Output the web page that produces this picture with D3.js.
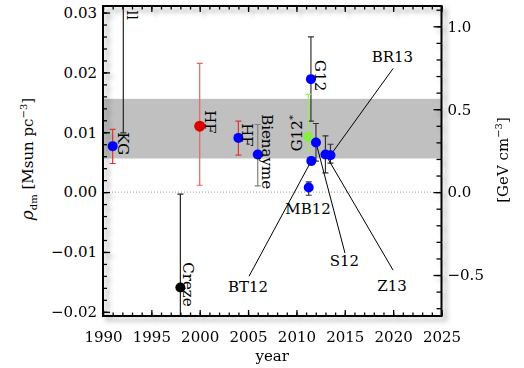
<!DOCTYPE html>
<html><head><meta charset="utf-8">
<script src="https://cdn.jsdelivr.net/npm/d3@7"></script>
<style>
html,body{margin:0;padding:0;background:#fff;}
svg{display:block;}
text{font-family:"DejaVu Serif",serif;fill:#000;}
</style></head><body>
<svg id="c" width="524" height="368"></svg>
<script>
// ---------------- data ----------------
const names    = ["ll","KG","Creze","HF","HF","Bienayme","G12","G12*","MB12","BT12","S12","Z13","BR13"];
const years    = [1992.1, 1991.0, 1998.0, 2000.0, 2004.0, 2006.0, 2011.5, 2011.23, 2011.27, 2011.54, 2012.02, 2013.0, 2013.52];
const rhoVal   = [0.035, 0.00768, -0.01595, 0.01102, 0.00906, 0.00629, 0.01888, 0.00923, 0.00077, 0.00522, 0.0083, 0.00629, 0.00617];
const rhoLow   = [0.0099, 0.00478, -0.035, 0.00115, 0.00617, 0.00104, 0.01186, 0.0070, -0.00052, 0.0046, 0.00517, 0.00321, 0.00483];
const rhoHigh  = [0.06, 0.01047, -0.00035, 0.0215, 0.01186, 0.0113, 0.02595, 0.01632, 0.0017, 0.0058, 0.01147, 0.0094, 0.0080];
const dotColors = ["#000000","#0000ff","#000000","#dd0000","#0000ff","#0000ff","#0000ff","#88ee44","#0000ff","#0000ff","#0000ff","#0000ff","#0000ff"];
const barColors = ["#222222","#e03535","#222222","#f06060","#e03535","#808080","#333333","#99ee55","#333333","#333333","#333333","#333333","#333333"];

// shaded band (Msun pc^-3)
const bandRange = [0.00562, 0.01559];

// rotated labels: text, year, rho of anchor, rotation
const rotLabels = [
  {t:"ll",      yr:1992.48, r:0.02876, rot:90, anchor:"end"},
  {t:"KG",      yr:1991.55, r:0.01002, rot:90, anchor:"start"},
  {t:"HF",      yr:2000.55, r:0.0137,  rot:90, anchor:"start"},
  {t:"HF",      yr:2004.37, r:0.01152, rot:90, anchor:"start"},
  {t:"Bienayme",yr:2006.44, r:0.01303, rot:90, anchor:"start"},
  {t:"Creze",   yr:1998.27, r:-0.01172,rot:90, anchor:"start"},
  {t:"G12",     yr:2011.92, r:0.02206, rot:90, anchor:"start"},
  {t:"G12",     yr:2010.58, r:0.00684, rot:-90, anchor:"start", sup:"*"}
];
// horizontal labels with leader lines: text position, leader start, target index
const leadLabels = [
  {t:"MB12", yr:2011.2,  r:-0.00269, from:null},
  {t:"BT12", yr:2005.0,  r:-0.01574, from:[2005.1, -0.01406], to:9},
  {t:"S12",  yr:2014.97, r:-0.01139, from:[2015.02, -0.01019], to:10},
  {t:"Z13",  yr:2019.88, r:-0.01569, from:[2019.99, -0.01303], to:11},
  {t:"BR13", yr:2019.93, r:0.02261,  from:[2020.0, 0.02067],  to:12}
];

// axis ticks
const xMajor = [1990,1995,2000,2005,2010,2015,2020,2025];
const xMinor = d3.range(1990, 2026, 1);
const yMajor = [-0.02,-0.01,0,0.01,0.02,0.03];
const yMinor = d3.range(-0.02, 0.0311, 0.002);
const gevMajor = [-0.5,0,0.5,1.0];
const gevMinor = d3.range(-0.7, 1.15, 0.1);
const gevPerMsun = 36.09;   // 1 Msun pc^-3 in GeV cm^-3 (as drawn)

// ---------------- drawing ----------------
const svg = d3.select("#c");
const L=103, R=441.5, T=6, B=316;
const x = d3.scaleLinear().domain([1990,2025]).range([L,R]);
const y = d3.scaleLinear().domain([-0.0207,0.0311]).range([B,T]);
const y2 = d3.scaleLinear().domain([-0.0207*gevPerMsun, 0.0311*gevPerMsun]).range([B,T]);

const defs = svg.append("defs");
defs.append("clipPath").attr("id","clip").append("rect")
  .attr("x",L).attr("y",T).attr("width",R-L).attr("height",B-T);
const f = defs.append("filter").attr("id","sh").attr("x","-10%").attr("y","-10%").attr("width","130%").attr("height","130%");
f.append("feDropShadow").attr("dx",4).attr("dy",4).attr("stdDeviation",2.8)
  .attr("flood-color","#000").attr("flood-opacity",0.33);

const plot = svg.append("g").attr("clip-path","url(#clip)");

// band
plot.append("rect").attr("x",L).attr("width",R-L)
  .attr("y",y(bandRange[1])).attr("height",y(bandRange[0])-y(bandRange[1]))
  .attr("fill","#c0c0c0");

// zero line
plot.append("line").attr("x1",L).attr("x2",R).attr("y1",y(0)).attr("y2",y(0))
  .attr("stroke","#999").attr("stroke-width",1).attr("stroke-dasharray","1,2");

// error bars
const idx = d3.range(names.length);
const eb = plot.append("g");
idx.forEach(i=>{
  const cx = x(years[i]);
  const g = eb.append("g").attr("stroke",barColors[i]).attr("stroke-width",1.2);
  g.append("line").attr("x1",cx).attr("x2",cx).attr("y1",y(rhoLow[i])).attr("y2",y(rhoHigh[i]));
  [rhoLow[i], rhoHigh[i]].forEach(v=>{
    g.append("line").attr("x1",cx-3).attr("x2",cx+3).attr("y1",y(v)).attr("y2",y(v));
  });
});

// leader lines
leadLabels.filter(d=>d.from).forEach(d=>{
  plot.append("line")
    .attr("x1",x(d.from[0])).attr("y1",y(d.from[1]))
    .attr("x2",x(years[d.to])).attr("y2",y(rhoVal[d.to]))
    .attr("stroke","#000").attr("stroke-width",1);
});

// dots
plot.selectAll("circle.pt").data(idx).join("circle")
  .attr("class","pt")
  .attr("cx",i=>x(years[i])).attr("cy",i=>y(rhoVal[i]))
  .attr("r",i=>names[i]==="HF"&&years[i]<2001?5.5:5)
  .attr("fill",i=>dotColors[i]);

// rotated labels
rotLabels.forEach(d=>{
  const t = plot.append("text")
    .attr("transform",`translate(${x(d.yr)},${y(d.r)}) rotate(${d.rot})`)
    .attr("text-anchor",d.anchor).style("font-size","15px").text(d.t);
  if(d.sup){ t.append("tspan").attr("dy",-6).style("font-size","10px").text(d.sup); }
});

// horizontal labels
leadLabels.forEach(d=>{
  svg.append("text").attr("x",x(d.yr)).attr("y",y(d.r)).attr("dy","0.36em")
    .attr("text-anchor","middle").style("font-size","15px").text(d.t);
});

// frame + ticks (with shadow)
const fr = svg.append("g").attr("filter","url(#sh)");
function tickAxis(axis, tr){
  const g = fr.append("g").attr("transform",tr).call(axis);
  g.select(".domain").remove();
  g.selectAll("line").attr("stroke","#000").attr("stroke-width",1.3);
  g.selectAll("text").remove();
}
tickAxis(d3.axisBottom(x).tickValues(xMajor).tickSize(-6).tickFormat(""), `translate(0,${B})`);
tickAxis(d3.axisBottom(x).tickValues(xMinor).tickSize(-3.5).tickFormat(""), `translate(0,${B})`);
tickAxis(d3.axisTop(x).tickValues(xMajor).tickSize(-6).tickFormat(""), `translate(0,${T})`);
tickAxis(d3.axisTop(x).tickValues(xMinor).tickSize(-3.5).tickFormat(""), `translate(0,${T})`);
tickAxis(d3.axisLeft(y).tickValues(yMajor).tickSize(-7).tickFormat(""), `translate(${L},0)`);
tickAxis(d3.axisLeft(y).tickValues(yMinor).tickSize(-4).tickFormat(""), `translate(${L},0)`);
tickAxis(d3.axisRight(y2).tickValues(gevMajor).tickSize(-8).tickFormat(""), `translate(${R},0)`);
tickAxis(d3.axisRight(y2).tickValues(gevMinor).tickSize(-5).tickFormat(""), `translate(${R},0)`);
fr.append("rect").attr("x",L).attr("y",T).attr("width",R-L).attr("height",B-T)
  .attr("fill","none").attr("stroke","#000").attr("stroke-width",2);

// tick labels
function labelAxis(axis, tr){
  const g = svg.append("g").attr("transform",tr).call(axis);
  g.select(".domain").remove();
  g.selectAll("line").remove();
  g.attr("font-family",null).attr("font-size",null);
  g.selectAll("text").style("font-size","15px").style("font-family","'DejaVu Serif',serif").attr("fill","#000");
}
const minusFmt = (fmt)=> d => fmt(d).replace("-","\u2212");
labelAxis(d3.axisBottom(x).tickValues(xMajor).tickSize(0).tickPadding(15).tickFormat(d3.format("d")), `translate(0,${B})`);
labelAxis(d3.axisLeft(y).tickValues(yMajor).tickSize(0).tickPadding(6).tickFormat(minusFmt(d3.format(".2f"))), `translate(${L},0)`);
labelAxis(d3.axisRight(y2).tickValues(gevMajor).tickSize(0).tickPadding(6).tickFormat(minusFmt(d3.format(".1f"))), `translate(${R},0)`);

// axis titles
svg.append("text").attr("x",(L+R)/2).attr("y",361).attr("text-anchor","middle")
  .style("font-size","15px").text("year");
const lt = svg.append("text").attr("transform","translate(33,159) rotate(-90)")
  .attr("text-anchor","middle").style("font-size","15px");
lt.append("tspan").style("font-style","italic").style("font-size","17px").text("ρ");
lt.append("tspan").attr("dy",4).style("font-size","10px").text("dm");
lt.append("tspan").attr("dy",-4).text("  [Msun pc");
lt.append("tspan").attr("dy",-6).style("font-size","10px").text("−3");
lt.append("tspan").attr("dy",6).text("]");
const rt = svg.append("text").attr("transform","translate(508,160) rotate(-90)")
  .attr("text-anchor","middle").style("font-size","15px");
rt.append("tspan").text("[GeV cm");
rt.append("tspan").attr("dy",-6).style("font-size","10px").text("−3");
rt.append("tspan").attr("dy",6).text("]");
</script>
</body></html>
